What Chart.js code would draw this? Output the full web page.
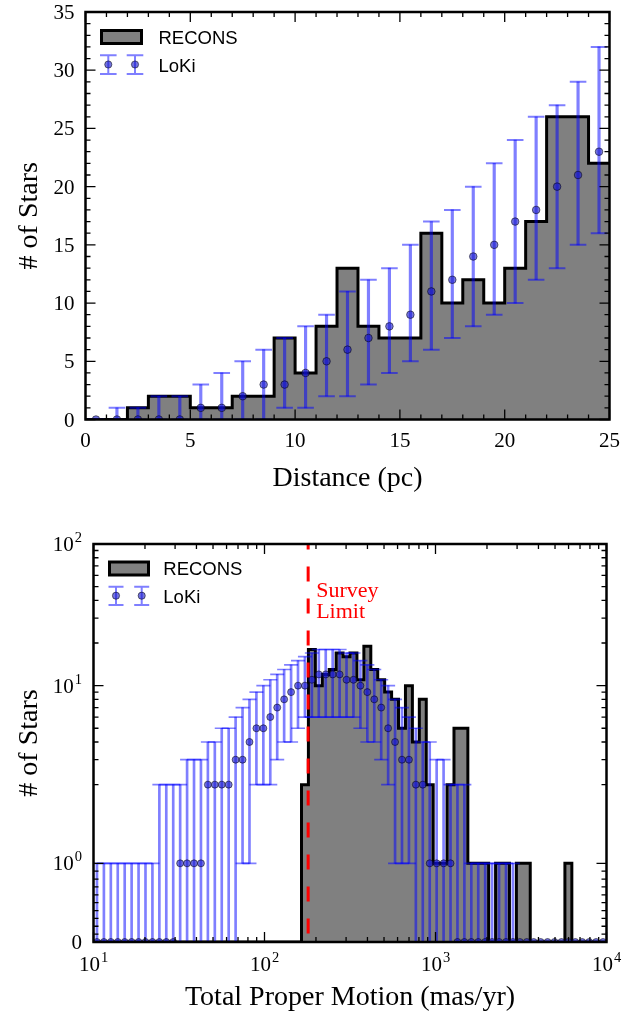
<!DOCTYPE html>
<html>
<head>
<meta charset="utf-8">
<script src="https://cdn.jsdelivr.net/npm/chart.js@4.4.1/dist/chart.umd.min.js"></script>
<style>
  html, body { margin: 0; padding: 0; background: #fff; }
  #wrap { position: relative; width: 624px; height: 1014px; }
  canvas { position: absolute; left: 0; }
  #dist { top: 0; }
  #pm { top: 500px; }
</style>
</head>
<body>
<div id="wrap">
  <canvas id="dist" width="624" height="500"></canvas>
  <canvas id="pm" width="624" height="514"></canvas>
</div>
<script>
// distance histogram, 1 pc bins
const distEdges = [0, 1, 2, 3, 4, 5, 6, 7, 8, 9, 10, 11, 12, 13, 14, 15, 16, 17, 18, 19, 20, 21, 22, 23, 24, 25]
const reconsDist = [0, 0, 1, 2, 2, 1, 1, 2, 2, 7, 4, 8, 13, 8, 7, 7, 16, 10, 12, 10, 13, 17, 26, 26, 22]
const lokiDist   = [0, 0, 0, 0, 0, 1, 1, 2, 3, 3, 4, 5, 6, 7, 8, 9, 11, 12, 14, 15, 17, 18, 20, 21, 23]
const lokiDistLo = [0, 0, 0, 0, 0, 0, 0, 0, 0, 1, 1, 2, 2, 3, 4, 5, 6, 7, 8, 9, 10, 12, 13, 15, 16]
const lokiDistHi = [0, 1, 1, 2, 2, 3, 4, 5, 6, 7, 8, 9, 11, 12, 13, 15, 17, 18, 20, 22, 24, 26, 27, 29, 32]

// proper motion histogram, 74 log bins between 10^1 and 10^4 mas/yr
const pmLogMin = 1
const pmLogMax = 4
const pmBinCount = 74
const reconsPm = [
  0, 0, 0, 0, 0, 0, 0, 0, 0, 0, 0, 0, 0, 0, 0, 0, 0, 0, 0, 0, 0, 0, 0, 0, 0, 0, 0, 0, 0, 0,
  2, 18, 10, 12, 13, 17, 16, 17, 11, 19, 13, 11, 9, 8, 5, 10, 4, 8, 2, 1, 1, 2, 5, 5,
  1, 1, 1, 0, 1, 1, 0, 1, 1, 0, 0, 0, 0, 0, 1, 0, 0, 0, 0, 0
]
const lokiPm = [
  0, 0, 0, 0, 0, 0, 0, 0, 0, 0, 0, 0, 1, 1, 1, 1, 2, 2, 2, 2, 3, 3, 4, 5, 5, 6, 7, 8, 9, 10,
  10, 11, 12, 12, 12, 12, 11, 11, 10, 9, 8, 7, 5, 4, 3, 3, 2, 2, 1, 1, 1, 1, 0, 0,
  0, 0, 0, 0, 0, 0, 0, 0, 0, 0, 0, 0, 0, 0, 0, 0, 0, 0, 0, 0
]
const lokiPmLo = [
  0, 0, 0, 0, 0, 0, 0, 0, 0, 0, 0, 0, 0, 0, 0, 0, 0, 0, 0, 0, 0, 1, 1, 2, 2, 2, 3, 4, 4, 5,
  6, 6, 6, 6, 6, 6, 6, 6, 5, 4, 4, 3, 2, 1, 1, 1, 0, 0, 0, 0, 0, 0, 0, 0,
  0, 0, 0, 0, 0, 0, 0, 0, 0, 0, 0, 0, 0, 0, 0, 0, 0, 0, 0, 0
]
const lokiPmHi = [
  1, 1, 1, 1, 1, 1, 1, 1, 1, 2, 2, 2, 2, 3, 3, 3, 4, 4, 5, 5, 6, 7, 8, 9, 10, 11, 12, 13, 14, 15,
  16, 17, 18, 18, 18, 18, 17, 17, 15, 14, 13, 11, 10, 8, 7, 6, 5, 4, 4, 3, 3, 2, 2, 2,
  1, 1, 1, 1, 1, 1, 1, 0, 0, 0, 0, 0, 0, 0, 0, 0, 0, 0, 0, 0
]
const surveyLimit = 180

const distXMajor = [0, 5, 10, 15, 20, 25]
const distYMajor = [0, 5, 10, 15, 20, 25, 30, 35]
const pmXMajor = [10, 100, 1000, 10000]
const pmYMajor = [0, 1, 10, 100]

const distXMinor = [], distYMinor = [], pmXMinor = [], pmYMinor = []
for (let i = 1; i < 25; i++) if (i % 5) distXMinor.push(i)
for (let i = 1; i < 35; i++) if (i % 5) distYMinor.push(i)
for (const d of [10, 100, 1000]) for (let m = 2; m < 10; m++) pmXMinor.push(m * d)
for (let m = 1; m < 10; m++) pmYMinor.push(m / 10)
for (const d of [1, 10]) for (let m = 2; m < 10; m++) pmYMinor.push(m * d)

const pmEdges = Array.from({length: pmBinCount + 1}, (_, i) => 10 ** (pmLogMin + (pmLogMax - pmLogMin) * i / pmBinCount))
const pmCenters = reconsPm.map((_, i) => Math.sqrt(pmEdges[i] * pmEdges[i + 1]))
const distCenters = reconsDist.map((_, i) => (distEdges[i] + distEdges[i + 1]) / 2)

const SERIF = '"Liberation Serif", "Times New Roman", serif'
const SANS = '"Liberation Sans", Arial, sans-serif'
const GRAY = '#808080'
const EBAR = 'rgba(0, 0, 255, 0.5)'
const DOT = 'rgba(20, 20, 200, 0.6)'
const DOT_EDGE = 'rgba(0, 0, 0, 0.5)'

Chart.defaults.font.family = SERIF
Chart.defaults.color = '#000'

// matplotlib style symlog axis (linscale 1)
class SymlogScale extends Chart.LinearScale {
  static id = 'symlog'
  static defaults = {linthresh: 1}
  tr(v) {
    const L = this.options.linthresh, c = 1 / 0.9, a = Math.abs(v)
    return Math.sign(v) * (a <= L ? c * a / L : c + Math.log10(a / L))
  }
  inv(t) {
    const L = this.options.linthresh, c = 1 / 0.9, a = Math.abs(t)
    return Math.sign(t) * (a <= c ? a * L / c : L * 10 ** (a - c))
  }
  buildTicks() {
    return []
  }
  getPixelForValue(value) {
    const t0 = this.tr(this.min), t1 = this.tr(this.max)
    return this.getPixelForDecimal((this.tr(value) - t0) / (t1 - t0))
  }
  getValueForPixel(pixel) {
    const t0 = this.tr(this.min), t1 = this.tr(this.max)
    return this.inv(t0 + this.getDecimalForPixel(pixel) * (t1 - t0))
  }
}
Chart.register(SymlogScale)

function stepData(edges, counts) {
  const pts = counts.map((c, i) => ({x: edges[i], y: c}))
  pts.push({x: edges[edges.length - 1], y: counts[counts.length - 1]})
  return pts
}
const barData = (xs, lo, hi) => xs.map((x, i) => ({x, y: [lo[i], hi[i]]}))
const capData = (xs, lo, hi) => xs.flatMap((x, i) => [{x, y: lo[i]}, {x, y: hi[i]}])
const dotData = (xs, v) => xs.map((x, i) => ({x, y: v[i]}))

function errorDatasets(xs, v, lo, hi, barW, capR, capW, dotR) {
  return [
    {type: 'bar', data: barData(xs, lo, hi), backgroundColor: EBAR, borderWidth: 0,
     barThickness: barW, grouped: false, order: 3},
    {type: 'scatter', data: capData(xs, lo, hi), pointStyle: 'line', pointRadius: capR,
     pointBorderColor: EBAR, pointBorderWidth: capW, order: 2},
    {type: 'scatter', data: dotData(xs, v), pointRadius: dotR, pointBackgroundColor: DOT,
     pointBorderColor: DOT_EDGE, pointBorderWidth: 1, order: 1}
  ]
}

function drawErrSymbol(ctx, x, yTop, yBot, yDot, half) {
  ctx.strokeStyle = EBAR
  ctx.lineWidth = 2
  ctx.beginPath()
  ctx.moveTo(x, yTop); ctx.lineTo(x, yBot)
  ctx.moveTo(x - half, yTop); ctx.lineTo(x + half, yTop)
  ctx.moveTo(x - half, yBot); ctx.lineTo(x + half, yBot)
  ctx.stroke()
  ctx.beginPath()
  ctx.arc(x, yDot, 3.6, 0, Math.PI * 2)
  ctx.fillStyle = DOT
  ctx.fill()
  ctx.lineWidth = 1
  ctx.strokeStyle = DOT_EDGE
  ctx.stroke()
}

function drawPow(ctx, exp, x, yBase, align) {
  ctx.textAlign = 'left'
  ctx.textBaseline = 'alphabetic'
  ctx.font = '21px ' + SERIF
  const w1 = ctx.measureText('10').width
  ctx.font = '14.5px ' + SERIF
  const w2 = ctx.measureText(exp).width
  const total = w1 + 1 + w2
  const x0 = align === 'right' ? x - total : x - total / 2
  ctx.font = '21px ' + SERIF
  ctx.fillText('10', x0, yBase)
  ctx.font = '14.5px ' + SERIF
  ctx.fillText(exp, x0 + w1 + 1, yBase - 9)
}

function drawPlain(ctx, text, x, yBase, align) {
  ctx.font = '21px ' + SERIF
  ctx.textAlign = align
  ctx.textBaseline = 'alphabetic'
  ctx.fillText(text, x, yBase)
}

function framePlugin(cfg) {
  return {
    id: 'frame',
    afterDatasetsDraw(chart) {
      const {ctx, chartArea: a, scales: {x, y}} = chart
      ctx.save()
      ctx.strokeStyle = '#000'
      ctx.lineWidth = 1.3
      ctx.beginPath()
      const xt = (vals, len) => vals.forEach(v => {
        const p = x.getPixelForValue(v)
        ctx.moveTo(p, a.bottom); ctx.lineTo(p, a.bottom - len)
        ctx.moveTo(p, a.top); ctx.lineTo(p, a.top + len)
      })
      const yt = (vals, len) => vals.forEach(v => {
        const p = y.getPixelForValue(v)
        ctx.moveTo(a.left, p); ctx.lineTo(a.left + len, p)
        ctx.moveTo(a.right, p); ctx.lineTo(a.right - len, p)
      })
      xt(cfg.xMajor, 10); xt(cfg.xMinor, 5)
      yt(cfg.yMajor, 10); yt(cfg.yMinor, 5)
      ctx.stroke()
      ctx.lineWidth = 2.5
      ctx.strokeRect(a.left, a.top, a.right - a.left, a.bottom - a.top)
      ctx.restore()
    },
    afterDraw(chart) {
      const {ctx, chartArea: a, scales: {x, y}} = chart
      const L = cfg.legend
      ctx.save()
      ctx.fillStyle = GRAY
      ctx.fillRect(L.boxX, L.boxY, L.boxW, L.boxH)
      ctx.strokeStyle = '#000'
      ctx.lineWidth = 3
      ctx.strokeRect(L.boxX, L.boxY, L.boxW, L.boxH)
      L.ebX.forEach(ex => drawErrSymbol(ctx, ex, L.capTop, L.capBot, L.dotY, L.capHalf))
      ctx.fillStyle = '#000'
      ctx.font = '18.5px ' + SANS
      ctx.textAlign = 'left'
      ctx.textBaseline = 'alphabetic'
      ctx.fillText('RECONS', L.textX, L.reconsY)
      ctx.fillText('LoKi', L.textX, L.lokiY)

      // tick labels
      ctx.fillStyle = '#000'
      const xBase = a.bottom + cfg.xLabelDrop
      const yRight = a.left - cfg.yLabelGap
      cfg.xMajor.forEach(v => {
        const p = x.getPixelForValue(v)
        if (cfg.powLabels) drawPow(ctx, String(Math.round(Math.log10(v))), p, xBase, 'center')
        else drawPlain(ctx, String(v), p, xBase, 'center')
      })
      cfg.yMajor.forEach(v => {
        const p = y.getPixelForValue(v)
        if (cfg.powLabels && v !== 0) drawPow(ctx, String(Math.round(Math.log10(v))), yRight, p + 7, 'right')
        else drawPlain(ctx, String(v), yRight, p + 7, 'right')
      })

      if (cfg.note) {
        ctx.fillStyle = '#ff0000'
        ctx.font = '22px ' + SERIF
        ctx.textAlign = 'left'
        ctx.fillText('Survey', x.getPixelForValue(surveyLimit) + 8, 96.7)
        ctx.fillText('Limit', x.getPixelForValue(surveyLimit) + 8, 118.3)
      }
      ctx.restore()
    }
  }
}

const axisTitle = (text, pad) => ({display: true, text, color: '#000',
  font: {family: SERIF, size: 28, lineHeight: 1.2}, padding: pad})

const hiddenAxis = {grid: {display: false, drawTicks: false}, border: {display: false}, ticks: {display: false}}

new Chart(document.getElementById('dist'), {
  type: 'scatter',
  data: {
    datasets: [
      {type: 'line', data: stepData(distEdges, reconsDist), stepped: true, fill: 'origin',
       backgroundColor: GRAY, borderColor: '#000', borderWidth: 3, borderJoinStyle: 'miter',
       pointRadius: 0, order: 4},
      ...errorDatasets(distCenters, lokiDist, lokiDistLo, lokiDistHi, 2.5, 8.3, 2, 3.8)
    ]
  },
  options: {
    responsive: false,
    animation: false,
    events: [],
    layout: {padding: {left: 0, right: 14.5, top: 12, bottom: 0}},
    plugins: {legend: {display: false}, tooltip: {enabled: false}},
    scales: {
      x: {type: 'linear', min: 0, max: 25, offset: false, ...hiddenAxis,
          title: axisTitle('Distance (pc)', {top: 0, bottom: 5}),
          afterFit: s => { s.height = 80.5 }},
      y: {type: 'linear', min: 0, max: 35, stacked: false, ...hiddenAxis,
          title: axisTitle('# of Stars', {top: 13, bottom: 0}),
          afterFit: s => { s.width = 85.5 }}
    }
  },
  plugins: [framePlugin({
    xMajor: distXMajor, xMinor: distXMinor, yMajor: distYMajor, yMinor: distYMinor,
    xLabelDrop: 27.5, yLabelGap: 11,
    legend: {boxX: 101.5, boxY: 30.5, boxW: 40, boxH: 13, textX: 158.5, reconsY: 43.5, lokiY: 71.5,
             ebX: [108.3, 135], capTop: 55.3, capBot: 74, dotY: 64.5, capHalf: 8.3}
  })]
})

new Chart(document.getElementById('pm'), {
  type: 'scatter',
  data: {
    datasets: [
      {type: 'line', data: stepData(pmEdges, reconsPm), stepped: true, fill: 'origin',
       backgroundColor: GRAY, borderColor: '#000', borderWidth: 3, borderJoinStyle: 'miter',
       pointRadius: 0, order: 4},
      ...errorDatasets(pmCenters, lokiPm, lokiPmLo, lokiPmHi, 2, 7, 1.7, 3.5),
      {type: 'line', data: [{x: surveyLimit, y: 0}, {x: surveyLimit, y: 100}], borderColor: '#ff0000',
       borderWidth: 3, borderDash: [15, 17], borderDashOffset: 23.4, pointRadius: 0, fill: false, order: 0}
    ]
  },
  options: {
    responsive: false,
    animation: false,
    events: [],
    layout: {padding: {left: 0, right: 17.5, top: 44, bottom: 0}},
    plugins: {legend: {display: false}, tooltip: {enabled: false}},
    scales: {
      x: {type: 'logarithmic', min: 10, max: 10000, offset: false, ...hiddenAxis,
          title: axisTitle('Total Proper Motion (mas/yr)', {top: 0, bottom: 0}),
          afterFit: s => { s.height = 72 }},
      y: {type: 'symlog', linthresh: 2, min: 0, max: 100, stacked: false, ...hiddenAxis,
          afterBuildTicks: s => { s.ticks = pmYMajor.map(value => ({value})) },
          title: axisTitle('# of Stars', {top: 13, bottom: 0}),
          afterFit: s => { s.width = 93.5 }}
    }
  },
  plugins: [framePlugin({
    xMajor: pmXMajor, xMinor: pmXMinor, yMajor: pmYMajor, yMinor: pmYMinor, powLabels: true, note: true,
    xLabelDrop: 29, yLabelGap: 11.5,
    legend: {boxX: 109.5, boxY: 62, boxW: 39, boxH: 13, textX: 163.3, reconsY: 75, lokiY: 102.7,
             ebX: [116, 141.7], capTop: 86.7, capBot: 105, dotY: 95.7, capHalf: 7.5}
  })]
})
</script>
</body>
</html>
